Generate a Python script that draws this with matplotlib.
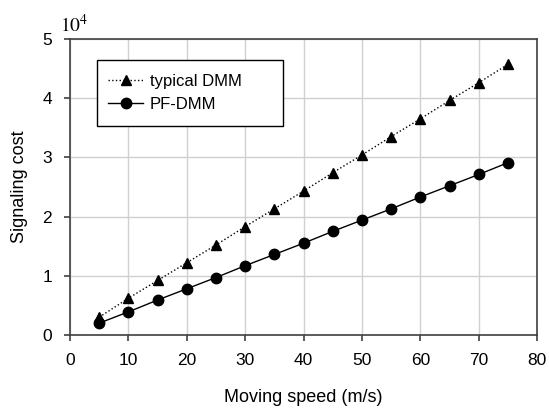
import matplotlib
matplotlib.use("Agg")
import matplotlib.pyplot as plt
from matplotlib.patches import Rectangle

plt.rcParams["font.family"] = ["Liberation Sans", "DejaVu Sans"]

speed = [5, 10, 15, 20, 25, 30, 35, 40, 45, 50, 55, 60, 65, 70, 75]
typical_dmm = [0.30, 0.62, 0.92, 1.22, 1.52, 1.83, 2.13, 2.43, 2.74, 3.04,
               3.35, 3.65, 3.96, 4.26, 4.57]
pf_dmm = [0.20, 0.39, 0.59, 0.78, 0.97, 1.17, 1.36, 1.55, 1.75, 1.94,
          2.13, 2.33, 2.52, 2.71, 2.91]

fig = plt.figure(figsize=(5.49, 4.09), dpi=100)
ax = fig.add_axes([0.1275, 0.181, 0.851, 0.724])

ax.plot(speed, typical_dmm, linestyle=":", color="black", linewidth=1.0,
        marker="^", markersize=7.5, label="typical DMM")
ax.plot(speed, pf_dmm, linestyle="-", color="black", linewidth=1.0,
        marker="o", markersize=7.5, label="PF-DMM")

ax.set_xlim(0, 80)
ax.set_ylim(0, 5)
ax.set_xticks(range(0, 81, 10))
ax.set_yticks(range(0, 6))
ax.grid(True, color="#d0d0d0", linewidth=1.0)
ax.set_axisbelow(True)
for s in ax.spines.values():
    s.set_color("#404040")
    s.set_linewidth(1.2)
ax.tick_params(direction="out", length=4, width=1.2, color="#404040",
               labelsize=12.5, pad=9)

ax.set_xlabel("Moving speed (m/s)", fontsize=13, labelpad=15)
ax.set_ylabel("Signaling cost", fontsize=13, labelpad=10)
ax.text(-0.021, 1.01, r"$10^4$", transform=ax.transAxes, fontsize=14,
        math_fontfamily="stix", ha="left", va="bottom")

# legend frame drawn separately (wider right margin like the original)
ax.add_patch(Rectangle((0.058, 0.706), 0.398, 0.223, transform=ax.transAxes,
                       facecolor="white", edgecolor="black", linewidth=1.0,
                       zorder=4))
leg = ax.legend(loc="center left", bbox_to_anchor=(0.082, 0.8175), fontsize=12,
                frameon=False, borderpad=0, borderaxespad=0, handlelength=2.1,
                handletextpad=0.4, labelspacing=0.45)
leg.set_zorder(5)

fig.savefig("out.png", dpi=100)
